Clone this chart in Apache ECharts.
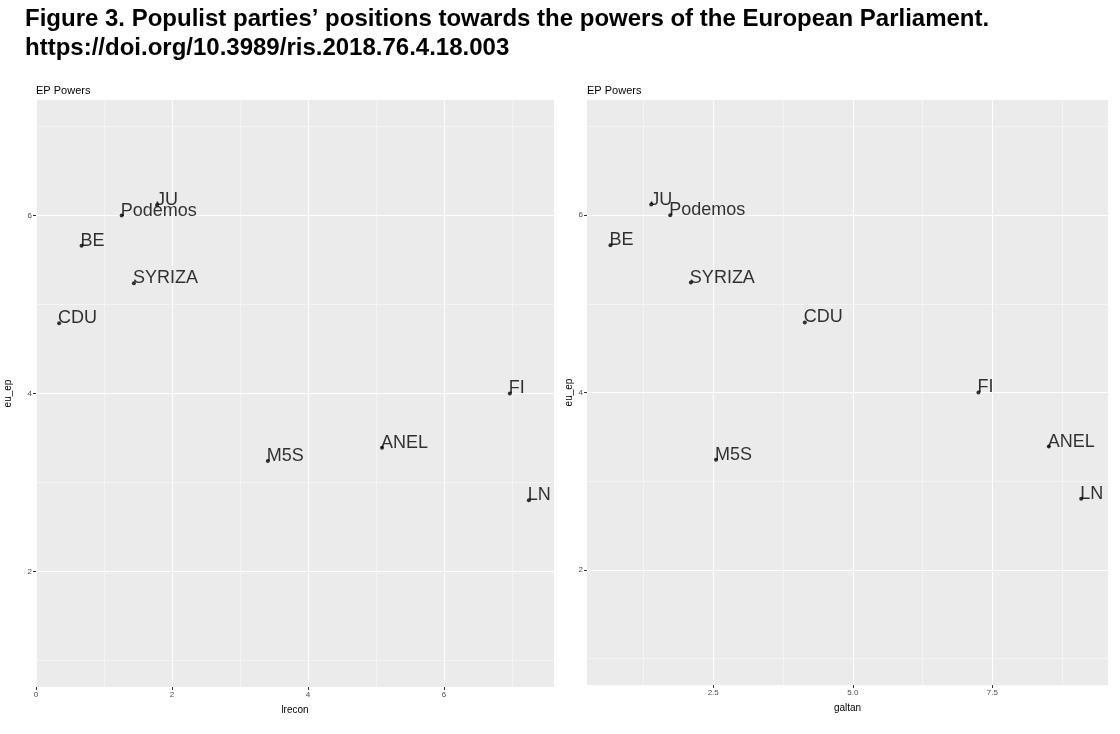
<!DOCTYPE html>
<html><head><meta charset="utf-8">
<script src="https://cdn.jsdelivr.net/npm/echarts@6/dist/echarts.min.js"></script>
<style>html,body{margin:0;padding:0;background:#fff}#c{width:1120px;height:734px}</style>
</head><body><div id="c"></div>
<script>
const parties = ['JU','Podemos','BE','SYRIZA','CDU','FI','ANEL','M5S','LN'];
const lreconValues = [1.78,1.26,0.67,1.44,0.34,6.97,5.09,3.41,7.25];
const galtanValues = [1.39,1.73,0.66,2.10,4.14,7.25,8.51,2.55,9.09];
const euEpValues = [6.12,6.00,5.66,5.24,4.79,4.00,3.39,3.24,2.80];
const lreconTicks = [0,2,4,6];
const lreconMinor = [1,3,5,7];
const galtanTicks = [2.5,5.0,7.5];
const galtanMinor = [1.25,3.75,6.25,8.75];
const euEpTicks = [2,4,6];
const euEpMinor = [1,3,5,7];
const panelTitle = 'EP Powers';
const figTitle = 'Figure 3. Populist parties\u2019 positions towards the powers of the European Parliament.\nhttps://doi.org/10.3989/ris.2018.76.4.18.003';

const FONT = 'Liberation Sans, Arial, sans-serif';

function majorAxis(gridIndex, min, max, ticks, name, nameGap, position, fmt) {
  return {
    type: 'value', gridIndex, min, max, position,
    name, nameLocation: 'middle', nameGap,
    nameTextStyle: {color: '#000', fontSize: 10, fontFamily: FONT},
    axisLine: {show: false},
    axisTick: {show: true, length: 3, lineStyle: {color: '#333', width: 1}, customValues: ticks},
    axisLabel: {show: true, customValues: ticks, color: '#4d4d4d', fontSize: 8, margin: 4,
      fontFamily: FONT, formatter: fmt || (v => String(v))},
    splitLine: {show: true, lineStyle: {color: '#ffffff', width: 1.1}},
    z: 3
  };
}
function minorAxis(gridIndex, min, max, ticks, position) {
  return {
    type: 'value', gridIndex, min, max, position,
    axisLine: {show: false},
    axisTick: {show: false, customValues: ticks},
    axisLabel: {show: false, customValues: ticks},
    splitLine: {show: true, lineStyle: {color: '#fafafa', width: 0.6}},
    z: 2
  };
}

function seriesData(xs) {
  return parties.map((p, i) => ({name: p, value: [xs[i], euEpValues[i]]}));
}
function scatter(xi, yi, xs) {
  return {
    type: 'scatter', xAxisIndex: xi, yAxisIndex: yi,
    data: seriesData(xs), symbolSize: 4,
    itemStyle: {color: '#000'},
    label: {show: true, formatter: p => p.name, position: [1, 6], align: 'left', verticalAlign: 'bottom',
      fontSize: 18, fontFamily: FONT, color: '#000'},
    emphasis: {disabled: true}, z: 5
  };
}

const chart = echarts.init(document.getElementById('c'), null, {renderer: 'canvas'});
chart.setOption({
  backgroundColor: '#fff',
  animation: false,
  title: [
    {text: figTitle, left: 25, top: 5, padding: 0,
     textStyle: {fontSize: 24, fontWeight: 'bold', fontFamily: FONT, color: '#000', lineHeight: 29}},
    {text: panelTitle, left: 36, top: 85, padding: 0, textStyle: {fontSize: 11, fontWeight: 'normal', fontFamily: FONT, color: '#000'}},
    {text: panelTitle, left: 587, top: 85, padding: 0, textStyle: {fontSize: 11, fontWeight: 'normal', fontFamily: FONT, color: '#000'}}
  ],
  grid: [
    {left: 36, top: 100, width: 518, height: 587, show: true, backgroundColor: '#ebebeb', borderWidth: 0},
    {left: 587, top: 100, width: 521, height: 585, show: true, backgroundColor: '#ebebeb', borderWidth: 0}
  ],
  xAxis: [
    majorAxis(0, 0, 7.62, lreconTicks, 'lrecon', 18, 'bottom'),
    minorAxis(0, 0, 7.62, lreconMinor, 'bottom'),
    majorAxis(1, 0.24, 9.57, galtanTicks, 'galtan', 18, 'bottom', v => v.toFixed(1)),
    minorAxis(1, 0.24, 9.57, galtanMinor, 'bottom')
  ],
  yAxis: [
    majorAxis(0, 0.7, 7.3, euEpTicks, 'eu_ep', 23, 'left'),
    minorAxis(0, 0.7, 7.3, euEpMinor, 'left'),
    majorAxis(1, 0.7, 7.3, euEpTicks, 'eu_ep', 12, 'left'),
    minorAxis(1, 0.7, 7.3, euEpMinor, 'left')
  ],
  series: [
    scatter(0, 0, lreconValues),
    scatter(2, 2, galtanValues)
  ]
});
</script>
</body></html>
